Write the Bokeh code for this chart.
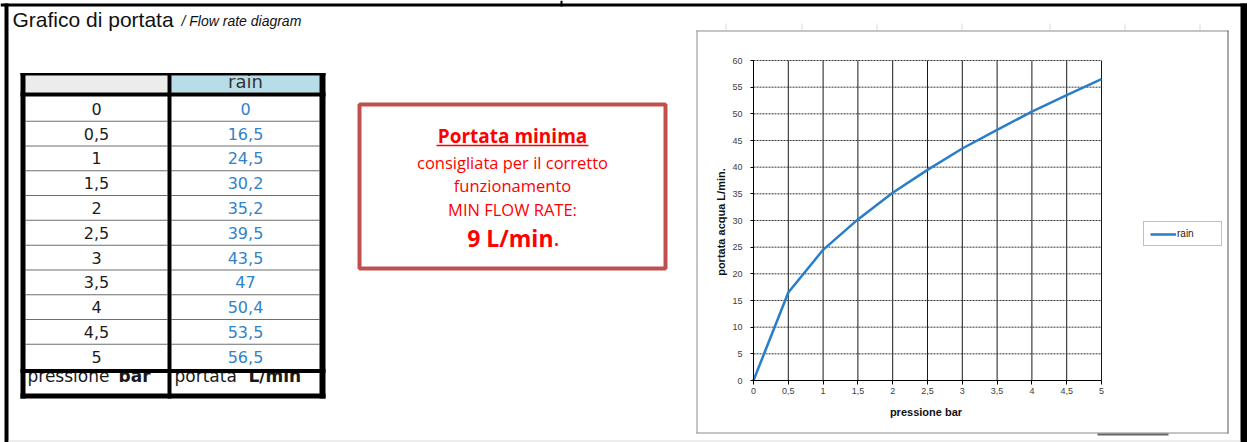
from bokeh.plotting import figure
from bokeh.models import (Range1d, FixedTicker, Legend, LegendItem, ColumnDataSource,
                          LinearAxis)
from bokeh.core.properties import value
from bokeh.embed import file_html
from bokeh.resources import INLINE

# ---------------- data ----------------
pressure = [0, 0.5, 1, 1.5, 2, 2.5, 3, 3.5, 4, 4.5, 5]
flow = [0, 16.5, 24.5, 30.2, 35.2, 39.5, 43.5, 47, 50.4, 53.5, 56.5]
series_name = "rain"
x_ticks = [0, 0.5, 1, 1.5, 2, 2.5, 3, 3.5, 4, 4.5, 5]
y_ticks = [0, 5, 10, 15, 20, 25, 30, 35, 40, 45, 50, 55, 60]
title_main = "Grafico di portata"
title_sub = "/ Flow rate diagram"
x_label = "pressione  bar"
y_label = "portata acqua  L/min."
footer_left = ["pressione", "bar"]
footer_right = ["portata", "L/min"]
note_title = "Portata minima"
note_lines = ["consigliata per il corretto", "funzionamento", "MIN FLOW RATE:"]
note_value = "9 L/min"


def it(v):
    return f"{v:g}".replace(".", ",")


W, H = 1247, 442
# pixel frame of the inner chart's plot area
PL, PR, PT, PB = 753, 1101, 60, 380
X0, X1 = x_ticks[0], x_ticks[-1]
Y0, Y1 = y_ticks[0], y_ticks[-1]
sx = (X1 - X0) / (PR - PL)
sy = (Y1 - Y0) / (PB - PT)

p = figure(width=W, height=H, x_range=Range1d(0, W), y_range=Range1d(H, 0),
           x_axis_type=None, y_axis_type=None, toolbar_location=None,
           output_backend="svg", min_border=0, outline_line_color=None,
           background_fill_color="white", border_fill_color="white")
p.extra_x_ranges = {"cx": Range1d(X0 - PL * sx, X1 + (W - PR) * sx)}
p.extra_y_ranges = {"cy": Range1d(Y0 - (H - PB) * sy, Y1 + PT * sy)}


def box(l, r, t, b, color):
    p.quad(left=l, right=r, top=t, bottom=b, fill_color=color, line_color=None)


def txt(x, y, t, font, size, color, style="normal", align="left"):
    p.text(x=[x], y=[y], text=[t], text_font=font, text_font_size=size,
           text_font_style=style, text_color=color,
           text_baseline="middle", text_align=align)


BLACK = "#000000"
SANS = value("Liberation Sans")
TBL = value("DejaVu Sans")
NOTE = value("Open Sans")
RED = "#ff0000"

# ---------------- page frame ----------------
box(0, W, 3, 6, BLACK)
box(560, 562, 0, 6, BLACK)
box(4, 8, 3, H, BLACK)
box(1240, W, 3, H, BLACK)
box(8, 1240, 440, 441, "#dcdcdc")

txt(12, 19, title_main, SANS, "21px", "#111111")
txt(181, 20.5, title_sub, SANS, "14px", "#111111", style="italic")

# ---------------- table ----------------
L0, L1, M0, M1, R0, R1 = 20, 25, 167, 171, 319, 325
row_top, row_bot = 96, 368.5
n = len(pressure)
rh = (row_bot - row_top) / n
bounds = [row_top + i * rh for i in range(n + 1)]
centers = [(bounds[i] + bounds[i + 1]) / 2 for i in range(n)]

# footer labels (their top is hidden by the heavy rule above them)
for xx, t, st in [(27, footer_left[0], "normal"), (118, footer_left[1], "bold"),
                  (174, footer_right[0], "normal"), (248, footer_right[1], "bold")]:
    txt(xx, 375, t, TBL, "17px", "#1a1a1a", style=st)

box(L1, M0, bounds[-1], row_top, "white")
box(M1, R0, bounds[-1], row_top, "white")

p.quad(left=L1, right=M0, top=75, bottom=92, fill_color="#ececec", line_color=None,
       hatch_pattern="v_line", hatch_color="#bdbdbd", hatch_scale=2, hatch_weight=1)
box(M1, R0, 75, 92, "#b7dee8")
txt((M1 + R0) / 2, 81, series_name, TBL, "18px", "#333333", align="center")

for yb in bounds[1:-1]:
    box(L1, M0, yb - 0.5, yb + 0.5, "#6e6e6e")
    box(M1, R0, yb - 0.5, yb + 0.5, "#6e6e6e")

src = ColumnDataSource(dict(
    xl=[(L1 + M0) / 2] * n, xr=[(M1 + R0) / 2] * n, y=centers,
    tl=[it(v) for v in pressure], tr=[it(v) for v in flow]))
p.text(x="xl", y="y", text="tl", source=src, text_font=TBL, text_font_size="16px",
       text_color="#1c1c1c", text_baseline="middle", text_align="center")
p.text(x="xr", y="y", text="tr", source=src, text_font=TBL, text_font_size="16px",
       text_color="#3282c8", text_baseline="middle", text_align="center")

box(L0, R1, 72.5, 75, BLACK)
box(L0, R1, 92, 96, BLACK)
box(L0, R1, bounds[-1], bounds[-1] + 4, BLACK)
box(L0, R1, 393, 398, BLACK)
box(L0, L1, 72.5, 398, BLACK)
box(M0, M1, 72.5, 398, BLACK)
box(R0, R1, 72.5, 398, BLACK)

# ---------------- note box ----------------
p.quad(left=359, right=665, top=104, bottom=268, fill_color="white",
       line_color="#c0504d", line_width=4)
cx = 512
txt(cx, 135, note_title, NOTE, "19px", RED, style="bold", align="center")
box(436, 588, 144.3, 145.8, RED)
for yy, t in zip([161.5, 184.5, 208.5], note_lines):
    txt(cx, yy, t, NOTE, "16.5px", RED, align="center")
txt(553, 237, note_value, NOTE, "23px", RED, style="bold", align="right")
txt(553, 237, ".", NOTE, "23px", RED, align="left")

# ---------------- chart box ----------------
for gx in [725, 801, 876, 961, 1049, 1124, 1199]:
    box(gx, gx + 1, 23, 30, "#d9d9d9")
box(696, 1228, 30, 31, "#8c8c8c")
box(696, 697, 30, 433, "#8c8c8c")
box(1227, 1228, 30, 433, "#555555")
box(696, 1228, 432, 433, "#8c8c8c")
box(1097, 1168, 433, 435, "#666666")

# grid lines (inner chart scales)
p.segment(x0=x_ticks[1:], y0=[Y0] * (len(x_ticks) - 1), x1=x_ticks[1:], y1=[Y1] * (len(x_ticks) - 1),
          x_range_name="cx", y_range_name="cy", line_color="#1a1a1a", line_width=1)
p.segment(x0=[X0] * (len(y_ticks) - 1), y0=y_ticks[1:], x1=[X1] * (len(y_ticks) - 1), y1=y_ticks[1:],
          x_range_name="cx", y_range_name="cy", line_color="#333333", line_width=1,
          line_dash="2 1")

r = p.line(pressure, flow, x_range_name="cx", y_range_name="cy",
           line_color="#2a7dc9", line_width=2.5)

xa = LinearAxis(x_range_name="cx", y_range_name="cy", fixed_location=Y0, bounds=(X0, X1),
                ticker=FixedTicker(ticks=x_ticks), axis_label=x_label)
ya = LinearAxis(x_range_name="cx", y_range_name="cy", fixed_location=X0, bounds=(Y0, Y1),
                ticker=FixedTicker(ticks=y_ticks), axis_label=y_label)
xa.major_label_overrides = {t: it(t) for t in x_ticks}
ya.major_label_overrides = {t: it(t) for t in y_ticks}
for ax in (xa, ya):
    ax.axis_line_color = "#000000"
    ax.axis_line_width = 1
    ax.major_tick_line_color = "#000000"
    ax.major_tick_in = 0
    ax.minor_tick_line_color = None
    ax.major_label_text_font = "Liberation Sans"
    ax.major_label_text_font_size = "9px"
    ax.major_label_text_color = "#404040"
    ax.axis_label_text_font = "Liberation Sans"
    ax.axis_label_text_font_size = "11px"
    ax.axis_label_text_font_style = "bold"
    ax.axis_label_text_color = "#111111"
xa.major_tick_out = 4
ya.major_tick_out = 3
xa.major_label_standoff = 3
ya.major_label_standoff = 8
xa.axis_label_standoff = 9
ya.axis_label_standoff = 2
p.add_layout(xa, "below")
p.add_layout(ya, "left")

leg = Legend(items=[LegendItem(label=series_name, renderers=[r])],
             location=(1143, H - 246), margin=0, padding=6, spacing=0,
             glyph_width=26, glyph_height=10, label_standoff=1, label_width=38,
             label_text_font="Liberation Sans", label_text_font_size="10px",
             label_text_color="#222222", border_line_color="#808080",
             border_line_width=1, background_fill_color="white")
p.add_layout(leg, "center")

open("out.html", "w").write(file_html(p, INLINE))
